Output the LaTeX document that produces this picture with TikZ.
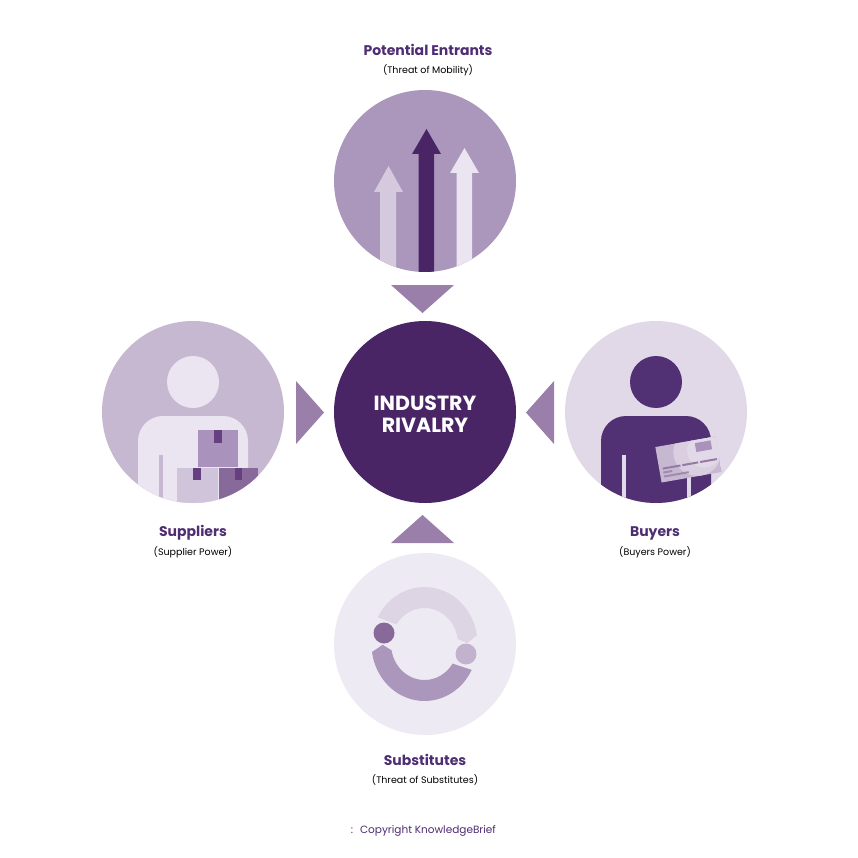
\documentclass[tikz,border=0pt]{standalone}
\usepackage{fontspec}
\setmainfont{Poppins}
\usepackage{tikz}
\usetikzlibrary{positioning}
\definecolor{darkplum}{HTML}{4A2566}
\definecolor{titleplum}{HTML}{4F2D73}
\definecolor{bodyplum}{HTML}{513074}
\definecolor{wedge}{HTML}{9A7FAB}
\definecolor{plumA}{HTML}{AC97BC}
\definecolor{plumB}{HTML}{C7B8D1}
\definecolor{plumC}{HTML}{E1D9E8}
\definecolor{plumD}{HTML}{EEEAF3}
\definecolor{pale}{HTML}{EAE5F0}
\definecolor{boxA}{HTML}{A992BB}
\definecolor{boxB}{HTML}{D0C4DA}
\definecolor{boxC}{HTML}{886A9A}
\definecolor{tagplum}{HTML}{653F7F}
\tikzset{
	disc/.style = {circle, minimum size=182pt, inner sep=0pt},
	heading/.style = {anchor=base, font=\bfseries\fontsize{14}{16}\selectfont, text=titleplum},
	subheading/.style = {anchor=base, font=\fontsize{9.5}{11}\selectfont, text=black},
	centertext/.style = {anchor=base, font=\bfseries\fontsize{20.5}{22}\selectfont, text=white},
	footer/.style = {anchor=base, font=\fontsize{10.5}{12}\selectfont, text=titleplum}
}
\begin{document}
\begin{tikzpicture}[x=1pt, y=-1pt]
		\useasboundingbox (0,0) rectangle (858,858);
		\fill[white] (0,0) rectangle (858,858);
		
		\node at (425,181) (entrants) [disc, fill=plumA] {};
		\node at (425,412) (rivalry) [disc, fill=darkplum] {};
		\node at (193,412) (suppliers) [disc, fill=plumB] {};
		\node at (656,412) (buyers) [disc, fill=plumC] {};
		\node at (425,644) (substitutes) [disc, fill=plumD] {};
		
		\fill[wedge] (391,285) -- (454,285) -- (422.5,313) -- cycle;
		\fill[wedge] (296,381) -- (324,412.5) -- (296,444) -- cycle;
		\fill[wedge] (554,381) -- (526,412.5) -- (554,444) -- cycle;
		\fill[wedge] (391,543) -- (454,543) -- (422.5,515) -- cycle;
		
		\begin{scope}
			\clip (425,181) circle (91pt);
			\fill[plumB!75!white] (380,280) -- (380,192) -- (374,192) -- (388.5,166) -- (403,192) -- (396,192) -- (396,280) -- cycle;
			\fill[darkplum] (418.5,280) -- (418.5,154) -- (412,154) -- (426.5,129) -- (441,154) -- (434,154) -- (434,280) -- cycle;
			\fill[pale] (456.5,280) -- (456.5,173) -- (450,173) -- (464.5,148) -- (479,173) -- (472,173) -- (472,280) -- cycle;
		\end{scope}
		
		\begin{scope}
			\clip (193,412) circle (91pt);
			\fill[pale] (193,382) circle (26pt);
			\fill[pale, rounded corners=25pt] (138,560) -- (138,416) -- (248,416) -- (248,560) -- cycle;
			\fill[plumB] (159,455) rectangle (163,510);
			\fill[boxA] (198,430) rectangle (238,467);
			\fill[tagplum] (214,430) rectangle (221.5,443);
			\fill[boxB] (177,468) rectangle (218,510);
			\fill[tagplum] (193,468) rectangle (201,480);
			\fill[boxC] (219,468) rectangle (258,510);
			\fill[tagplum] (235,468) rectangle (242,480);
		\end{scope}
		
		\begin{scope}
			\clip (656,412) circle (91pt);
			\fill[bodyplum] (656,382) circle (26pt);
			\fill[bodyplum, rounded corners=25pt] (601,560) -- (601,416) -- (711,416) -- (711,560) -- cycle;
			\fill[plumC] (622,455) rectangle (626,510);
			\fill[plumC] (687,470) rectangle (691,510);
		\end{scope}
		
		\begin{scope}[shift={(688.5,459.5)}, rotate=10]
			\clip (-30.5,-18) rectangle (30.5,18);
			\fill[plumB] (-30.5,-18) rectangle (30.5,18);
			\fill[plumC!70!plumB] (10,-6) circle (24pt);
			\fill[plumC] (17,-6) circle (17pt);
			\fill[boxA] (9,-15) rectangle (25,-6);
			\fill[boxC!80!plumB] (-27,3.5) rectangle (-9,5.5);
			\fill[boxC!80!plumB] (-7,3.5) rectangle (9,5.5);
			\fill[boxC!80!plumB] (11,3.5) rectangle (28,5.5);
			\fill[boxC!60!plumB] (-27,7.5) rectangle (-18,9.5);
			\fill[boxC!60!plumB] (-27,11.5) rectangle (-2,13.5);
		\end{scope}
		
		\begin{scope}[shift={(424.5,644)}, y=1pt, xscale=0.93]
			\fill[plumC!85!plumB] (152:57) arc (152:9:57pt) -- (1:46) -- (8:36) arc (8:147:36pt) -- cycle;
			\fill[plumA] (188:57) -- (181:45) -- (190:36) arc (190:327:36pt) -- (333:57) arc (333:188:57pt) -- cycle;
		\end{scope}
		\fill[boxC] (384,633) circle (10.5pt);
		\fill[plumB!85!boxA] (466,654) circle (10.5pt);
		
		\node at (428,55.5) (entrants title) [heading] {Potential Entrants};
		\node at (428,73.5) (entrants sub) [subheading] {(Threat of Mobility)};
		\node at (193,536) (suppliers title) [heading] {Suppliers};
		\node at (193,555) (suppliers sub) [subheading] {(Supplier Power)};
		\node at (655,536) (buyers title) [heading] {Buyers};
		\node at (655,555) (buyers sub) [subheading] {(Buyers Power)};
		\node at (425,765) (substitutes title) [heading] {Substitutes};
		\node at (425,783.5) (substitutes sub) [subheading] {(Threat of Substitutes)};
		\node at (425,410.5) (rivalry top) [centertext] {INDUSTRY};
		\node at (425,432) (rivalry bottom) [centertext] {RIVALRY};
		\node at (352,833) (footer mark) [footer] {:};
		\node at (428,833) (footer text) [footer] {Copyright KnowledgeBrief};
	\end{tikzpicture}
\end{document}
